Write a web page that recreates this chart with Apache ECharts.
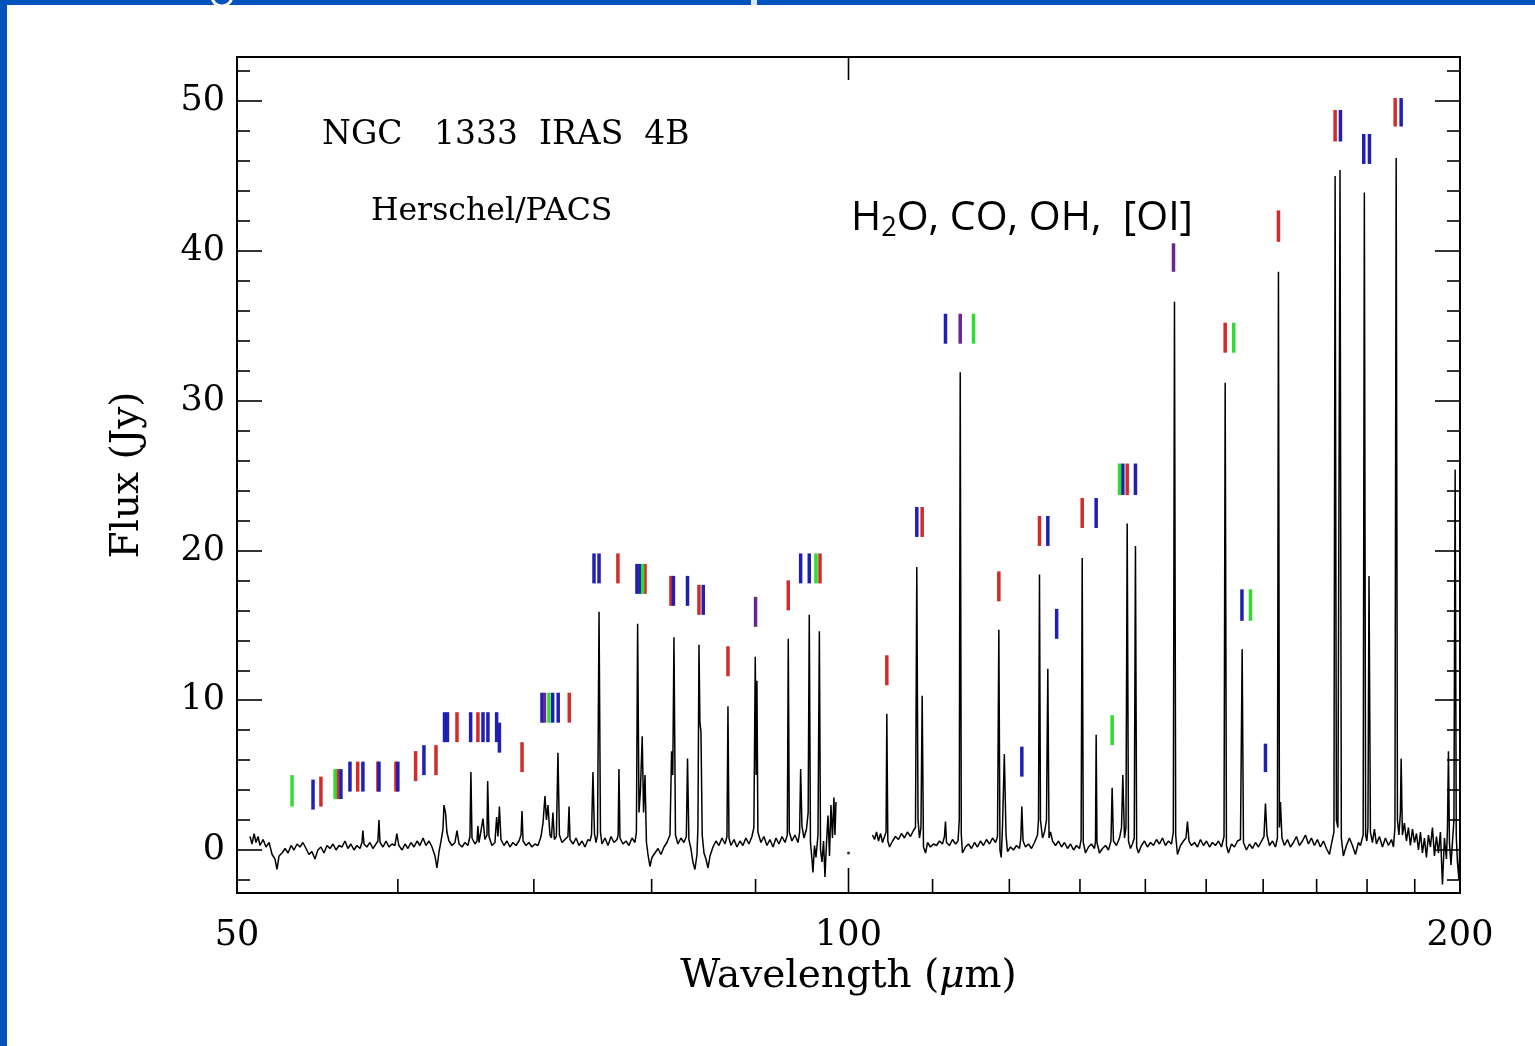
<!DOCTYPE html>
<html>
<head>
<meta charset="utf-8">
<script src="https://cdn.jsdelivr.net/npm/echarts@6/dist/echarts.min.js"></script>
<style>
html,body{margin:0;padding:0;background:#fff;}
#chart{width:1535px;height:1046px;}
</style>
</head>
<body>
<div id="chart"></div>
<script>
// ---------------- DATA ----------------
// PACS blue-band spectrum segment: [wavelength (um), flux (Jy)]
const spectrumShort = [
[50.74,0.9],[50.86,0.4],[50.98,1.1],[51.09,0.5],[51.21,0.9],[51.32,0.3],[51.50,0.7],[51.67,0.2],[51.85,0.5],[52.03,-0.3],[52.20,-0.6],[52.32,-1.3],[52.44,-0.4],[52.62,-0.2],[52.80,0.1],[52.98,-0.2],[53.16,0.3],[53.34,0.0],[53.52,0.4],[53.70,0.2],[53.88,0.5],[54.07,0.1],[54.25,-0.3],[54.43,-0.1],[54.62,-0.6],[54.80,0.0],[54.99,0.2],[55.18,-0.2],[55.37,0.3],[55.56,0.1],[55.75,0.4],[55.94,0.0],[56.13,0.3],[56.32,0.2],[56.51,0.6],[56.70,0.1],[56.89,0.4],[57.09,0.0],[57.28,0.3],[57.48,0.1],[57.61,0.5],[57.67,1.3],[57.74,0.4],[57.93,0.2],[58.13,0.5],[58.33,0.1],[58.53,0.4],[58.66,0.6],[58.73,2.0],[58.80,0.5],[59.00,0.2],[59.20,0.6],[59.40,0.2],[59.60,0.4],[59.80,0.3],[59.93,1.1],[60.07,0.3],[60.29,0.0],[60.49,0.4],[60.69,0.1],[60.90,0.5],[61.11,0.2],[61.32,0.6],[61.52,0.3],[61.74,0.8],[61.94,0.3],[62.16,0.6],[62.37,0.2],[62.58,-0.4],[62.72,-1.2],[62.87,-0.1],[63.01,0.6],[63.15,1.4],[63.22,3.0],[63.33,2.5],[63.43,1.2],[63.58,0.6],[63.80,0.3],[64.01,0.5],[64.16,1.3],[64.31,0.4],[64.53,0.2],[64.74,0.5],[64.96,0.3],[65.11,0.9],[65.18,5.2],[65.26,0.8],[65.48,0.4],[65.63,0.6],[65.70,1.6],[65.78,0.5],[65.92,0.6],[66.08,2.1],[66.22,0.7],[66.38,1.0],[66.43,4.6],[66.53,0.9],[66.75,0.3],[66.98,0.5],[67.11,2.2],[67.21,0.9],[67.32,2.9],[67.44,0.7],[67.67,0.3],[67.90,0.6],[68.13,0.2],[68.36,0.5],[68.60,0.3],[68.83,0.6],[68.99,1.0],[69.07,2.6],[69.15,0.6],[69.38,0.3],[69.61,0.5],[69.85,0.2],[70.09,0.4],[70.33,0.3],[70.57,0.9],[70.73,1.8],[70.89,3.6],[71.01,2.0],[71.13,3.0],[71.29,1.0],[71.41,0.8],[71.53,2.5],[71.65,0.7],[71.81,0.9],[71.94,6.5],[72.06,1.0],[72.27,0.5],[72.51,0.7],[72.76,0.9],[72.85,2.9],[72.93,0.7],[73.18,0.4],[73.43,0.8],[73.68,0.3],[73.93,0.6],[74.18,0.2],[74.43,0.7],[74.60,0.6],[74.73,1.0],[74.85,5.2],[74.98,1.1],[75.11,0.5],[75.24,1.0],[75.37,15.9],[75.49,1.2],[75.62,0.4],[75.88,0.8],[76.14,0.3],[76.40,0.9],[76.66,0.5],[76.92,0.7],[77.02,1.0],[77.09,5.4],[77.18,0.8],[77.44,0.4],[77.71,0.6],[77.97,0.3],[78.24,0.8],[78.50,0.5],[78.63,1.2],[78.74,15.1],[78.86,2.5],[78.99,4.0],[79.15,7.6],[79.27,2.5],[79.40,5.0],[79.53,0.5],[79.67,-0.3],[79.85,-1.1],[80.03,-0.5],[80.30,-0.2],[80.58,0.1],[80.85,-0.3],[81.13,0.2],[81.40,0.5],[81.68,1.0],[81.83,6.6],[81.94,5.0],[82.05,14.2],[82.19,1.0],[82.42,0.4],[82.70,0.8],[82.98,0.5],[83.21,0.9],[83.32,6.1],[83.45,0.7],[83.64,0.1],[83.83,-0.8],[84.02,-1.3],[84.22,-0.3],[84.31,1.5],[84.41,13.7],[84.50,8.5],[84.60,7.9],[84.72,1.0],[84.89,-0.2],[85.08,-0.6],[85.28,-1.2],[85.47,-0.4],[85.76,0.2],[86.05,0.6],[86.34,0.3],[86.64,0.8],[86.94,0.4],[87.13,0.9],[87.23,9.6],[87.33,0.8],[87.53,0.3],[87.83,0.7],[88.12,0.2],[88.42,0.6],[88.72,0.3],[89.02,0.8],[89.33,0.4],[89.63,0.9],[89.83,1.5],[89.97,12.9],[90.06,5.0],[90.14,11.3],[90.24,1.2],[90.55,0.5],[90.86,0.9],[91.17,0.3],[91.48,0.7],[91.80,0.2],[92.11,0.8],[92.42,0.4],[92.74,0.9],[93.06,0.5],[93.30,1.0],[93.40,14.1],[93.51,1.2],[93.79,0.6],[94.11,1.0],[94.44,0.5],[94.61,1.2],[94.72,5.4],[94.86,1.6],[95.08,0.8],[95.35,1.4],[95.53,2.5],[95.65,15.7],[95.78,0.5],[95.94,-0.6],[96.05,-1.5],[96.22,0.3],[96.38,-0.5],[96.60,1.0],[96.75,14.6],[96.88,0.0],[97.04,-0.8],[97.21,0.6],[97.37,-1.8],[97.54,0.5],[97.70,2.3],[97.87,-0.4],[98.03,3.0],[98.20,0.8],[98.36,3.5],[98.48,1.0],[98.59,3.2]
];
// PACS red-band spectrum segment
const spectrumLong = [
[102.76,1.0],[103.0,0.7],[103.23,1.2],[103.46,0.6],[103.70,1.1],[103.93,0.5],[104.17,0.9],[104.35,1.2],[104.44,9.1],[104.56,0.6],[104.76,0.2],[105.12,0.6],[105.47,0.9],[105.83,0.7],[106.19,1.1],[106.55,0.8],[106.91,1.2],[107.28,0.9],[107.64,1.3],[107.89,1.5],[108.05,18.9],[108.2,2.0],[108.38,0.8],[108.56,1.5],[108.71,10.3],[108.87,0.2],[109.13,-0.2],[109.37,0.5],[109.74,0.2],[110.11,0.4],[110.49,0.3],[110.86,0.6],[111.24,0.4],[111.49,0.9],[111.62,1.9],[111.75,0.5],[112.13,0.3],[112.51,0.7],[112.90,0.4],[113.22,0.6],[113.38,2.0],[113.50,31.9],[113.64,1.0],[113.79,-0.2],[114.18,0.2],[114.57,0.4],[114.96,0.1],[115.35,0.5],[115.74,0.2],[116.13,0.6],[116.53,0.3],[116.93,0.7],[117.33,0.4],[117.73,0.8],[118.14,0.5],[118.40,0.9],[118.58,14.7],[118.73,0.0],[118.90,-0.5],[119.07,1.5],[119.32,6.4],[119.55,1.0],[119.75,-0.1],[120.16,0.2],[120.57,0.0],[120.98,0.3],[121.39,0.1],[121.57,0.8],[121.71,2.9],[121.88,0.6],[122.22,0.2],[122.63,0.4],[123.05,0.1],[123.47,0.5],[123.89,1.0],[124.03,2.0],[124.17,18.4],[124.31,2.0],[124.60,0.8],[124.88,1.2],[125.16,2.0],[125.35,12.1],[125.52,0.8],[125.73,1.2],[126.02,0.6],[126.45,0.3],[126.88,0.6],[127.31,0.2],[127.74,0.5],[128.18,0.1],[128.62,0.4],[129.06,0.0],[129.49,0.3],[129.93,0.1],[130.17,0.7],[130.33,19.5],[130.49,0.5],[130.82,-0.2],[131.26,0.2],[131.71,0.4],[132.16,0.1],[132.31,0.6],[132.41,7.7],[132.53,0.5],[132.91,-0.2],[133.36,0.1],[133.82,0.3],[134.27,0.0],[134.65,0.6],[134.83,4.15],[135.03,0.6],[135.49,0.3],[135.96,0.8],[136.27,1.5],[136.47,5.0],[136.73,0.8],[136.96,1.5],[137.15,21.8],[137.35,0.6],[137.66,0.1],[137.97,0.4],[138.25,0.8],[138.44,20.3],[138.63,0.2],[138.91,-0.2],[139.38,0.3],[139.86,0.6],[140.34,0.2],[140.82,0.5],[141.30,0.3],[141.78,0.7],[142.26,0.4],[142.75,0.8],[143.23,0.3],[143.72,0.6],[144.21,0.4],[144.51,1.2],[144.70,36.6],[144.90,1.0],[145.19,-0.3],[145.69,0.3],[146.19,0.6],[146.60,0.8],[146.85,1.9],[147.10,0.6],[147.52,0.3],[148.02,0.5],[148.52,0.2],[149.03,0.7],[149.54,0.3],[150.05,0.6],[150.56,0.2],[151.07,0.5],[151.58,0.3],[152.10,0.6],[152.62,0.2],[153.06,0.9],[153.26,31.2],[153.48,0.3],[153.83,-0.2],[154.36,0.4],[154.88,0.2],[155.41,0.6],[155.94,0.7],[156.24,13.4],[156.47,0.5],[157.00,0.0],[157.54,0.4],[158.08,0.1],[158.61,0.5],[159.15,0.2],[159.70,0.6],[160.15,0.9],[160.42,3.1],[160.70,1.0],[161.15,0.3],[161.70,0.6],[162.25,0.2],[162.61,0.8],[162.80,38.6],[162.98,1.5],[163.17,3.2],[163.45,0.8],[163.91,0.3],[164.47,0.7],[165.03,0.2],[165.59,0.5],[166.16,0.9],[166.72,0.3],[167.29,0.6],[167.86,1.0],[168.43,0.4],[169.00,0.8],[169.58,0.3],[170.16,0.7],[170.73,0.2],[171.32,0.6],[171.90,0.1],[172.49,-0.3],[172.88,0.4],[173.37,1.2],[173.60,45.0],[173.85,2.0],[174.15,1.5],[174.57,45.4],[174.83,0.8],[175.23,-0.4],[175.84,0.3],[176.44,0.8],[177.04,0.3],[177.65,-0.3],[178.25,0.5],[178.65,0.3],[179.21,1.0],[179.45,43.9],[179.71,1.0],[179.96,0.6],[180.18,1.5],[180.40,18.3],[180.69,1.2],[181.10,0.5],[181.51,1.4],[181.92,0.4],[182.54,0.9],[183.17,0.2],[183.79,0.8],[184.42,0.3],[185.05,0.7],[185.47,0.2],[185.78,1.5],[186.04,46.2],[186.31,2.0],[186.62,1.0],[186.94,2.5],[187.09,6.1],[187.36,1.0],[187.79,1.8],[188.22,0.6],[188.64,1.5],[189.07,0.3],[189.51,1.4],[189.94,0.5],[190.37,1.1],[190.80,0.0],[191.23,1.2],[191.66,-0.2],[192.10,0.8],[192.53,-0.5],[192.97,1.0],[193.41,0.2],[193.85,1.5],[194.29,-0.4],[194.73,0.9],[195.17,-0.2],[195.61,1.2],[196.06,-2.3],[196.50,0.8],[196.95,-0.6],[197.18,1.5],[197.40,6.6],[197.62,0.5],[197.96,-1.0],[198.29,0.5],[198.63,2.0],[198.90,25.4],[199.15,1.0],[199.42,-0.8],[199.76,-2.0],[199.95,0.5]
];
// isolated sample near 100 um
const spectrumDot = [[100.0,-0.2]];

// Line identification marks: [wavelength, lower flux, upper flux]
const coLines = [ // red
[54.99,2.9,4.9],[56.06,3.4,5.4],[57.33,3.9,5.9],[58.66,3.9,5.9],[59.87,3.9,5.9],[61.22,4.6,6.6],[62.65,5.0,7.0],[64.16,7.2,9.2],[65.70,7.2,9.2],[69.07,5.2,7.2],[72.87,8.5,10.5],[77.00,17.8,19.8],[79.40,17.1,19.1],[81.77,16.3,18.3],[84.41,15.7,17.7],[87.23,11.6,13.6],[93.40,16.0,18.0],[96.82,17.8,19.8],
[104.44,11.0,13.0],[108.71,20.9,22.9],[118.58,16.6,18.6],[124.17,20.3,22.3],[130.33,21.5,23.5],[137.15,23.7,25.8],[153.26,33.2,35.2],[162.80,40.6,42.7],[173.60,47.3,49.4],[185.83,48.3,50.2]
];
const h2oLines = [ // blue
[54.50,2.7,4.7],[56.25,3.4,5.4],[56.83,3.9,5.9],[57.67,3.9,5.9],[58.73,3.9,5.9],[60.00,3.9,5.9],[61.80,5.0,7.0],[63.26,7.2,9.2],[63.47,7.2,9.2],[65.16,7.2,9.2],[66.08,7.2,9.2],[66.45,7.2,9.2],[67.11,7.2,9.2],[67.32,6.5,8.5],[70.65,8.5,10.5],[71.51,8.5,10.5],[71.96,8.5,10.5],[74.94,17.8,19.8],[75.37,17.8,19.8],[78.68,17.1,19.1],[78.95,17.1,19.1],[82.00,16.3,18.3],[83.32,16.3,18.3],[84.82,15.7,17.7],[94.72,17.8,19.8],[95.65,17.8,19.8],
[108.05,20.9,22.9],[111.62,33.8,35.8],[121.71,4.9,6.9],[125.35,20.3,22.3],[126.61,14.1,16.1],[132.41,21.5,23.5],[136.47,23.7,25.8],[138.44,23.7,25.8],[156.20,15.3,17.4],[160.42,5.2,7.1],[174.65,47.3,49.4],[179.33,45.8,47.8],[180.49,45.8,47.8],[187.09,48.3,50.2]
];
const ohLines = [ // green
[53.22,2.9,5.0],[55.88,3.4,5.4],[71.21,8.5,10.5],[79.19,17.1,19.1],[96.38,17.8,19.8],
[115.22,33.8,35.8],[134.83,7.0,9.0],[135.96,23.7,25.8],[154.75,33.2,35.2],[157.72,15.3,17.4]
];
const blendLines = [ // purple
[70.85,8.5,10.5],[90.00,14.9,16.9],[113.50,33.8,35.8],[144.54,38.6,40.5]
];

// Axis ticks
const xMajorTicks = [50, 100, 200];
const xMinorTicks = [60, 70, 80, 90, 110, 120, 130, 140, 150, 160, 170, 180, 190];
const xTopTicks = [100];
const yMajorTicks = [0, 10, 20, 30, 40, 50];
const yMinorTicks = [-2, 2, 4, 6, 8, 12, 14, 16, 18, 22, 24, 26, 28, 32, 34, 36, 38, 42, 44, 46, 48, 52];
const Y_MIN = -2.87, Y_MAX = 52.94;

// ---------------- CHART ----------------
const SERIF = '"DejaVu Serif", "Liberation Serif", serif';
const SANS = '"Open Sans", "Liberation Sans", sans-serif';
const chart = echarts.init(document.getElementById('chart'));

function markSeries(name, data, color) {
  return {
    name, type: 'custom', data, clip: false, z: 5,
    renderItem(params, api) {
      const lo = api.coord([api.value(0), api.value(1)]);
      const hi = api.coord([api.value(0), api.value(2)]);
      return { type: 'rect', shape: { x: lo[0] - 1.75, y: hi[1], width: 3.5, height: lo[1] - hi[1] },
               style: { fill: color } };
    }
  };
}
function tickSeries(name, values, len, atTop) {
  return {
    name, type: 'custom', data: values.map(v => [v]), clip: false, z: 6,
    renderItem(params, api) {
      const x = api.value(0);
      const p = api.coord([x, atTop ? Y_MAX : Y_MIN]);
      return { type: 'line', shape: { x1: p[0], y1: p[1], x2: p[0], y2: atTop ? p[1] + len : p[1] - len },
               style: { stroke: '#000', lineWidth: 1.6 } };
    }
  };
}
function labelSeries(name, values) {
  return {
    name, type: 'custom', data: values.map(v => [v]), clip: false, z: 6,
    renderItem(params, api) {
      const x = api.value(0);
      const p = api.coord([x, Y_MIN]);
      return { type: 'text', x: p[0], y: p[1] + 43,
               style: { text: String(x), fontFamily: SERIF, fontSize: 35, fill: '#000', align: 'center', verticalAlign: 'middle' } };
    }
  };
}

const yBase = { type: 'value', min: Y_MIN, max: Y_MAX, splitLine: { show: false },
  axisLine: { show: true, onZero: false, lineStyle: { color: '#000', width: 2 } } };
const xBase = { type: 'log', logBase: 10, min: 50, max: 200, splitLine: { show: false },
  axisLine: { show: true, onZero: false, lineStyle: { color: '#000', width: 2 } },
  axisTick: { show: false }, axisLabel: { show: false }, minorTick: { show: false } };

const option = {
  animation: false,
  backgroundColor: '#ffffff',
  grid: { left: 237, right: 75, top: 57, bottom: 153, containLabel: false },
  xAxis: [
    Object.assign({}, xBase, { position: 'bottom',
      name: 'Wavelength ({i|μ}m)', nameLocation: 'middle', nameGap: 64,
      nameTextStyle: { fontFamily: SERIF, fontSize: 39, color: '#000',
        rich: { i: { fontFamily: SERIF, fontSize: 39, fontStyle: 'italic', color: '#000' } } } }),
    Object.assign({}, xBase, { position: 'top' })
  ],
  yAxis: [
    Object.assign({}, yBase, { position: 'left',
      axisTick: { show: true, inside: true, length: 25, customValues: yMajorTicks, lineStyle: { color: '#000', width: 1.6 } },
      axisLabel: { show: true, customValues: yMajorTicks, fontFamily: SERIF, fontSize: 35, color: '#000', margin: 12 },
      name: 'Flux (Jy)', nameLocation: 'middle', nameGap: 90,
      nameTextStyle: { fontFamily: SERIF, fontSize: 39, color: '#000' } }),
    Object.assign({}, yBase, { position: 'left',
      axisTick: { show: true, inside: true, length: 13, customValues: yMinorTicks, lineStyle: { color: '#000', width: 1.6 } },
      axisLabel: { show: false } }),
    Object.assign({}, yBase, { position: 'right',
      axisTick: { show: true, inside: true, length: 25, customValues: yMajorTicks, lineStyle: { color: '#000', width: 1.6 } },
      axisLabel: { show: false } }),
    Object.assign({}, yBase, { position: 'right',
      axisTick: { show: true, inside: true, length: 13, customValues: yMinorTicks, lineStyle: { color: '#000', width: 1.6 } },
      axisLabel: { show: false } })
  ],
  series: [
    { name: 'PACS blue', type: 'line', data: spectrumShort, showSymbol: false, symbol: 'none',
      lineStyle: { color: '#000', width: 1.5 }, z: 3 },
    { name: 'PACS red', type: 'line', data: spectrumLong, showSymbol: false, symbol: 'none',
      lineStyle: { color: '#000', width: 1.5 }, z: 3 },
    { name: 'dot', type: 'scatter', data: spectrumDot, symbolSize: 3, itemStyle: { color: '#000' }, z: 3 },
    markSeries('CO', coLines, '#d42a2a'),
    markSeries('H2O', h2oLines, '#1f1fb4'),
    markSeries('OH', ohLines, '#2fdc2f'),
    markSeries('blend', blendLines, '#6b2590'),
    tickSeries('xMajor', xMajorTicks, 25, false),
    tickSeries('xMinor', xMinorTicks, 14, false),
    tickSeries('xTop', xTopTicks, 23, true),
    labelSeries('xLabels', xMajorTicks)
  ],
  graphic: [
    { type: 'rect', left: 0, top: 0, shape: { width: 7, height: 1046 }, style: { fill: '#0052be' }, z: 100 },
    { type: 'rect', left: 0, top: 0, shape: { width: 1535, height: 5 }, style: { fill: '#0052be' }, z: 100 },
    { type: 'rect', left: 751, top: 0, shape: { width: 6, height: 5 }, style: { fill: '#dfe8f7' }, z: 101 },
    { type: 'arc', shape: { cx: 222, cy: -4, r: 10, startAngle: 0.2, endAngle: Math.PI - 0.2 },
      style: { stroke: '#ffffff', lineWidth: 3, fill: null }, z: 101 },
    { type: 'text', x: 322, y: 135, style: { text: 'NGC   1333  IRAS  4B', fontFamily: SERIF, fontSize: 33,
      fill: '#000', align: 'left', verticalAlign: 'middle' }, z: 50 },
    { type: 'text', x: 371, y: 212, style: { text: 'Herschel/PACS', fontFamily: SERIF, fontSize: 31.5,
      fill: '#000', align: 'left', verticalAlign: 'middle' }, z: 50 },
    { type: 'text', x: 851, y: 218, style: {
        text: '{n|H}{s|2}{n|O, CO, OH,  [OI]}',
        align: 'left', verticalAlign: 'middle',
        rich: {
          n: { fontFamily: SANS, fontSize: 41, lineHeight: 48, fill: '#000', verticalAlign: 'middle' },
          s: { fontFamily: SANS, fontSize: 27, lineHeight: 27, fill: '#000', verticalAlign: 'bottom' }
        } }, z: 50 }
  ]
};
chart.setOption(option);
</script>
</body>
</html>
